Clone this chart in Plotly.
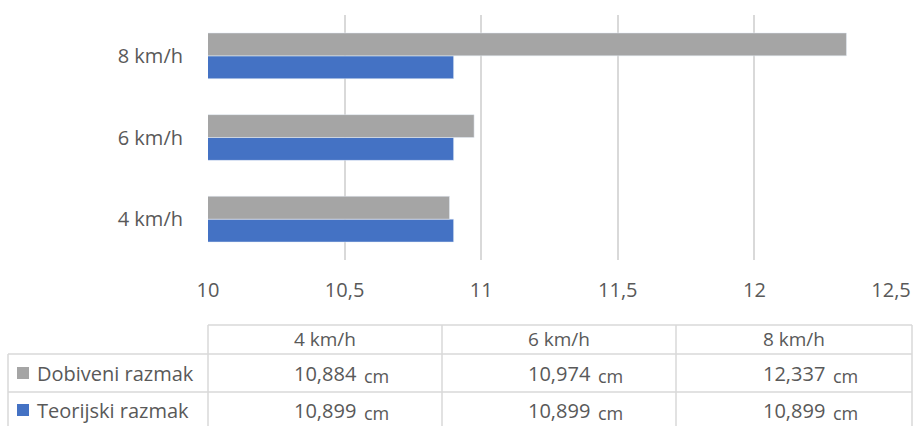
import plotly.graph_objects as go

categories = ["4 km/h", "6 km/h", "8 km/h"]
dobiveni = [10.884, 10.974, 12.337]
teorijski = [10.899, 10.899, 10.899]
series_names = ["Dobiveni razmak", "Teorijski razmak"]
unit = "cm"

GRAY = "#A5A5A5"
BLUE = "#4472C4"
TXT = "#595959"
LINE = "#D9D9D9"
FONT = "Open Sans"
FS = 20

W, H = 913, 426
ML, MR, MT, MB = 208, 22, 15, 166
PW = W - ML - MR
PH = H - MT - MB


def px(x):
    return (x - ML) / PW


def py(y):
    return (H - MB - y) / PH


fig = go.Figure()
fig.add_trace(go.Bar(y=categories, x=teorijski, orientation="h", name=series_names[1],
                     marker=dict(color=BLUE), showlegend=False))
fig.add_trace(go.Bar(y=categories, x=dobiveni, orientation="h", name=series_names[0],
                     marker=dict(color=GRAY), showlegend=False))

shapes = []
annotations = []

# table lines
hlines = [(208, 912, 325), (8, 912, 354), (8, 912, 392), (8, 912, 430)]
for x0, x1, y in hlines:
    shapes.append(dict(type="line", xref="paper", yref="paper", x0=px(x0), x1=px(x1),
                       y0=py(y), y1=py(y), line=dict(color=LINE, width=1.5)))
vlines = [(8, 354, 430), (208, 325, 430), (442, 325, 430), (676, 325, 430), (912, 325, 430)]
for x, y0, y1 in vlines:
    shapes.append(dict(type="line", xref="paper", yref="paper", x0=px(x), x1=px(x),
                       y0=py(y0), y1=py(y1), line=dict(color=LINE, width=1.5)))

col_centers = [325, 559, 794]
row_y = [373, 410]
for c, cx in zip(categories, col_centers):
    annotations.append(dict(text=c, x=px(cx), y=py(339), xref="paper", yref="paper",
                            showarrow=False, xanchor="center", yanchor="middle",
                            font=dict(family=FONT, size=FS - 1, color=TXT)))

for ri, (name, vals, col) in enumerate([(series_names[0], dobiveni, GRAY),
                                         (series_names[1], teorijski, BLUE)]):
    yy = row_y[ri]
    shapes.append(dict(type="rect", xref="paper", yref="paper", x0=px(17), x1=px(29),
                       y0=py(yy - 6), y1=py(yy + 6), fillcolor=col, line=dict(width=0)))
    annotations.append(dict(text=name, x=px(35), y=py(yy), xref="paper", yref="paper",
                            showarrow=False, xanchor="left", yanchor="middle",
                            font=dict(family=FONT, size=FS, color=TXT)))
    for v, cx in zip(vals, col_centers):
        annotations.append(dict(text=f"{v:.3f}".replace(".", ","), x=px(cx), y=py(yy),
                                xref="paper", yref="paper", showarrow=False,
                                xanchor="center", yanchor="middle",
                                font=dict(family=FONT, size=FS, color=TXT)))
        annotations.append(dict(text=unit, x=px(cx + 37), y=py(yy + 3),
                                xref="paper", yref="paper", showarrow=False,
                                xanchor="left", yanchor="middle",
                                font=dict(family=FONT, size=FS - 2, color=TXT)))

fig.update_layout(
    width=W, height=H,
    margin=dict(l=ML, r=MR, t=MT, b=MB, autoexpand=False),
    paper_bgcolor="white", plot_bgcolor="white",
    barmode="group", bargap=0.44, bargroupgap=0,
    separators=",.",
    font=dict(family=FONT, size=FS, color=TXT),
    xaxis=dict(range=[10, 12.5], dtick=0.5, tick0=10, showgrid=True, gridcolor=LINE,
               gridwidth=1.5, zeroline=False, showline=False, ticks="", automargin=False,
               ticklabelstandoff=16, tickfont=dict(family=FONT, size=FS, color=TXT)),
    yaxis=dict(categoryorder="array", categoryarray=categories, showgrid=False,
               zeroline=False, showline=False, ticks="", ticklabelstandoff=24,
               automargin=False, tickfont=dict(family=FONT, size=FS, color=TXT)),
    shapes=shapes, annotations=annotations,
)

fig.write_html("out.html", config={"displayModeBar": False},
               post_script="document.body.style.margin='0';")
